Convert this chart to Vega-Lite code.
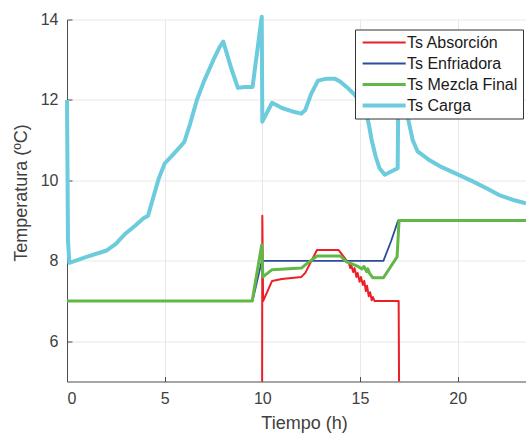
{
  "$schema": "https://vega.github.io/schema/vega-lite/v6.json",
  "width": 459,
  "height": 362,
  "autosize": {"type": "none"},
  "padding": {"left": 67, "top": 19.5, "right": 0, "bottom": 54.5},
  "background": "white",
  "config": {
    "font": "Liberation Sans",
    "view": {"stroke": null},
    "axis": {
      "domainColor": "#4d4d4d",
      "tickColor": "#4d4d4d",
      "gridColor": "#e8e8e8",
      "gridWidth": 1,
      "labelColor": "#404040",
      "titleColor": "#404040",
      "labelFont": "Liberation Sans",
      "titleFont": "Liberation Sans",
      "labelFontSize": 16,
      "titleFontSize": 18,
      "titleFontWeight": "normal",
      "tickSize": -5,
      "domainWidth": 1
    }
  },
  "data": {
    "values": [
      {"s": "Ts Absorción", "t": 9.99, "v": 5},
      {"s": "Ts Absorción", "t": 10.0, "v": 9.12},
      {"s": "Ts Absorción", "t": 10.04, "v": 7.0},
      {"s": "Ts Absorción", "t": 10.5, "v": 7.5},
      {"s": "Ts Absorción", "t": 11.0, "v": 7.55},
      {"s": "Ts Absorción", "t": 12.0, "v": 7.6},
      {"s": "Ts Absorción", "t": 12.2, "v": 7.7},
      {"s": "Ts Absorción", "t": 12.8, "v": 8.27},
      {"s": "Ts Absorción", "t": 13.9, "v": 8.27},
      {"s": "Ts Absorción", "t": 14.3, "v": 8.02},
      {"s": "Ts Absorción", "t": 14.45, "v": 7.92},
      {"s": "Ts Absorción", "t": 14.5, "v": 7.82},
      {"s": "Ts Absorción", "t": 14.55, "v": 7.9},
      {"s": "Ts Absorción", "t": 14.65, "v": 7.72},
      {"s": "Ts Absorción", "t": 14.72, "v": 7.82},
      {"s": "Ts Absorción", "t": 14.82, "v": 7.6},
      {"s": "Ts Absorción", "t": 14.88, "v": 7.7},
      {"s": "Ts Absorción", "t": 14.98, "v": 7.48},
      {"s": "Ts Absorción", "t": 15.05, "v": 7.6},
      {"s": "Ts Absorción", "t": 15.15, "v": 7.4},
      {"s": "Ts Absorción", "t": 15.22, "v": 7.5},
      {"s": "Ts Absorción", "t": 15.3, "v": 7.25},
      {"s": "Ts Absorción", "t": 15.36, "v": 7.38},
      {"s": "Ts Absorción", "t": 15.45, "v": 7.12},
      {"s": "Ts Absorción", "t": 15.52, "v": 7.22},
      {"s": "Ts Absorción", "t": 15.6, "v": 7.02},
      {"s": "Ts Absorción", "t": 15.66, "v": 7.1},
      {"s": "Ts Absorción", "t": 15.75, "v": 7.0},
      {"s": "Ts Absorción", "t": 16.98, "v": 7.0},
      {"s": "Ts Absorción", "t": 17.0, "v": 5},
      {"s": "Ts Enfriadora", "t": 0, "v": 7},
      {"s": "Ts Enfriadora", "t": 9.5, "v": 7},
      {"s": "Ts Enfriadora", "t": 9.95, "v": 7.95},
      {"s": "Ts Enfriadora", "t": 10.02, "v": 8.0},
      {"s": "Ts Enfriadora", "t": 16.2, "v": 8.0},
      {"s": "Ts Enfriadora", "t": 16.6, "v": 8.5},
      {"s": "Ts Enfriadora", "t": 16.95, "v": 9.0},
      {"s": "Ts Enfriadora", "t": 23.5, "v": 9.0},
      {"s": "Ts Mezcla Final", "t": 0, "v": 7},
      {"s": "Ts Mezcla Final", "t": 9.48, "v": 7},
      {"s": "Ts Mezcla Final", "t": 9.97, "v": 8.4},
      {"s": "Ts Mezcla Final", "t": 10.03, "v": 7.6},
      {"s": "Ts Mezcla Final", "t": 10.5, "v": 7.78},
      {"s": "Ts Mezcla Final", "t": 12.0, "v": 7.82},
      {"s": "Ts Mezcla Final", "t": 12.2, "v": 7.9},
      {"s": "Ts Mezcla Final", "t": 12.8, "v": 8.12},
      {"s": "Ts Mezcla Final", "t": 14.0, "v": 8.12},
      {"s": "Ts Mezcla Final", "t": 14.3, "v": 7.98},
      {"s": "Ts Mezcla Final", "t": 14.9, "v": 7.86},
      {"s": "Ts Mezcla Final", "t": 15.1, "v": 7.8},
      {"s": "Ts Mezcla Final", "t": 15.2, "v": 7.86},
      {"s": "Ts Mezcla Final", "t": 15.35, "v": 7.73},
      {"s": "Ts Mezcla Final", "t": 15.4, "v": 7.8},
      {"s": "Ts Mezcla Final", "t": 15.5, "v": 7.68},
      {"s": "Ts Mezcla Final", "t": 15.65, "v": 7.58},
      {"s": "Ts Mezcla Final", "t": 16.2, "v": 7.58},
      {"s": "Ts Mezcla Final", "t": 16.9, "v": 8.1},
      {"s": "Ts Mezcla Final", "t": 17.0, "v": 9.0},
      {"s": "Ts Mezcla Final", "t": 23.5, "v": 9.0},
      {"s": "Ts Carga", "t": 0, "v": 12.0},
      {"s": "Ts Carga", "t": 0.05, "v": 8.5},
      {"s": "Ts Carga", "t": 0.12, "v": 7.95},
      {"s": "Ts Carga", "t": 1.0, "v": 8.1},
      {"s": "Ts Carga", "t": 2.0, "v": 8.25},
      {"s": "Ts Carga", "t": 2.5, "v": 8.42},
      {"s": "Ts Carga", "t": 3.0, "v": 8.68},
      {"s": "Ts Carga", "t": 3.5, "v": 8.88},
      {"s": "Ts Carga", "t": 3.9, "v": 9.05},
      {"s": "Ts Carga", "t": 4.15, "v": 9.12},
      {"s": "Ts Carga", "t": 4.4, "v": 9.55},
      {"s": "Ts Carga", "t": 4.7, "v": 10.05},
      {"s": "Ts Carga", "t": 5.0, "v": 10.42},
      {"s": "Ts Carga", "t": 5.5, "v": 10.68},
      {"s": "Ts Carga", "t": 6.0, "v": 10.95},
      {"s": "Ts Carga", "t": 6.3, "v": 11.4},
      {"s": "Ts Carga", "t": 6.65, "v": 12.0},
      {"s": "Ts Carga", "t": 7.0, "v": 12.45},
      {"s": "Ts Carga", "t": 7.5, "v": 13.0},
      {"s": "Ts Carga", "t": 7.8, "v": 13.3},
      {"s": "Ts Carga", "t": 8.0, "v": 13.45},
      {"s": "Ts Carga", "t": 8.4, "v": 12.8},
      {"s": "Ts Carga", "t": 8.75, "v": 12.3},
      {"s": "Ts Carga", "t": 9.1, "v": 12.32},
      {"s": "Ts Carga", "t": 9.5, "v": 12.32},
      {"s": "Ts Carga", "t": 9.97, "v": 14.07},
      {"s": "Ts Carga", "t": 10.0, "v": 11.46},
      {"s": "Ts Carga", "t": 10.5, "v": 11.93},
      {"s": "Ts Carga", "t": 11.0, "v": 11.8},
      {"s": "Ts Carga", "t": 11.5, "v": 11.72},
      {"s": "Ts Carga", "t": 12.0, "v": 11.66},
      {"s": "Ts Carga", "t": 12.2, "v": 11.75},
      {"s": "Ts Carga", "t": 12.5, "v": 12.15},
      {"s": "Ts Carga", "t": 12.85, "v": 12.48},
      {"s": "Ts Carga", "t": 13.3, "v": 12.53},
      {"s": "Ts Carga", "t": 13.7, "v": 12.53},
      {"s": "Ts Carga", "t": 14.0, "v": 12.45},
      {"s": "Ts Carga", "t": 14.3, "v": 12.33},
      {"s": "Ts Carga", "t": 14.73, "v": 12.13},
      {"s": "Ts Carga", "t": 15.0, "v": 11.95},
      {"s": "Ts Carga", "t": 15.3, "v": 11.7},
      {"s": "Ts Carga", "t": 15.45, "v": 11.4},
      {"s": "Ts Carga", "t": 15.6, "v": 11.0},
      {"s": "Ts Carga", "t": 15.8, "v": 10.6},
      {"s": "Ts Carga", "t": 16.0, "v": 10.3},
      {"s": "Ts Carga", "t": 16.27, "v": 10.14},
      {"s": "Ts Carga", "t": 16.6, "v": 10.22},
      {"s": "Ts Carga", "t": 16.93, "v": 10.3},
      {"s": "Ts Carga", "t": 16.96, "v": 12.0},
      {"s": "Ts Carga", "t": 17.2, "v": 12.0},
      {"s": "Ts Carga", "t": 17.45, "v": 11.56},
      {"s": "Ts Carga", "t": 17.7, "v": 11.0},
      {"s": "Ts Carga", "t": 17.95, "v": 10.72},
      {"s": "Ts Carga", "t": 18.5, "v": 10.52},
      {"s": "Ts Carga", "t": 19.1, "v": 10.35},
      {"s": "Ts Carga", "t": 20.0, "v": 10.15},
      {"s": "Ts Carga", "t": 20.8, "v": 9.97},
      {"s": "Ts Carga", "t": 21.5, "v": 9.8},
      {"s": "Ts Carga", "t": 22.1, "v": 9.64},
      {"s": "Ts Carga", "t": 22.8, "v": 9.52},
      {"s": "Ts Carga", "t": 23.5, "v": 9.43}
    ]
  },
  "mark": {"type": "line", "strokeJoin": "round", "strokeCap": "butt"},
  "encoding": {
    "x": {
      "field": "t", "type": "quantitative",
      "scale": {"domain": [0, 23.5], "nice": false, "zero": false},
      "axis": {"values": [0, 5, 10, 15, 20], "title": "Tiempo (h)", "labelPadding": 14, "titleX": 237, "titlePadding": 8}
    },
    "y": {
      "field": "v", "type": "quantitative",
      "scale": {"domain": [5, 14], "nice": false, "zero": false},
      "axis": {"values": [6, 8, 10, 12, 14], "title": "Temperatura (ºC)", "labelPadding": 14, "titleY": 173, "titlePadding": 10}
    },
    "color": {
      "field": "s", "type": "nominal",
      "scale": {
        "domain": ["Ts Absorción", "Ts Enfriadora", "Ts Mezcla Final", "Ts Carga"],
        "range": ["#ec1f26", "#2e4b9c", "#62b846", "#6ccbdc"]
      },
      "legend": {
        "title": null,
        "orient": "none",
        "legendX": 288,
        "legendY": 10,
        "symbolType": "M-1,0H7",
        "symbolSize": 116,
        "labelFont": "Liberation Sans",
        "labelFontSize": 16,
        "labelColor": "#1a1a1a",
        "strokeColor": "#333333",
        "fillColor": "white",
        "padding": 5,
        "labelOffset": 31,
        "rowPadding": 5
      }
    },
    "strokeWidth": {
      "field": "s", "type": "nominal",
      "scale": {
        "type": "ordinal",
        "domain": ["Ts Absorción", "Ts Enfriadora", "Ts Mezcla Final", "Ts Carga"],
        "range": [2, 1.8, 3, 4]
      },
      "legend": {
        "title": null,
        "orient": "none",
        "legendX": 288,
        "legendY": 10,
        "symbolType": "M-1,0H7",
        "symbolSize": 116,
        "labelFont": "Liberation Sans",
        "labelFontSize": 16,
        "labelColor": "#1a1a1a",
        "strokeColor": "#333333",
        "fillColor": "white",
        "padding": 5,
        "labelOffset": 31,
        "rowPadding": 5
      }
    },
    "order": {"value": null}
  }
}
